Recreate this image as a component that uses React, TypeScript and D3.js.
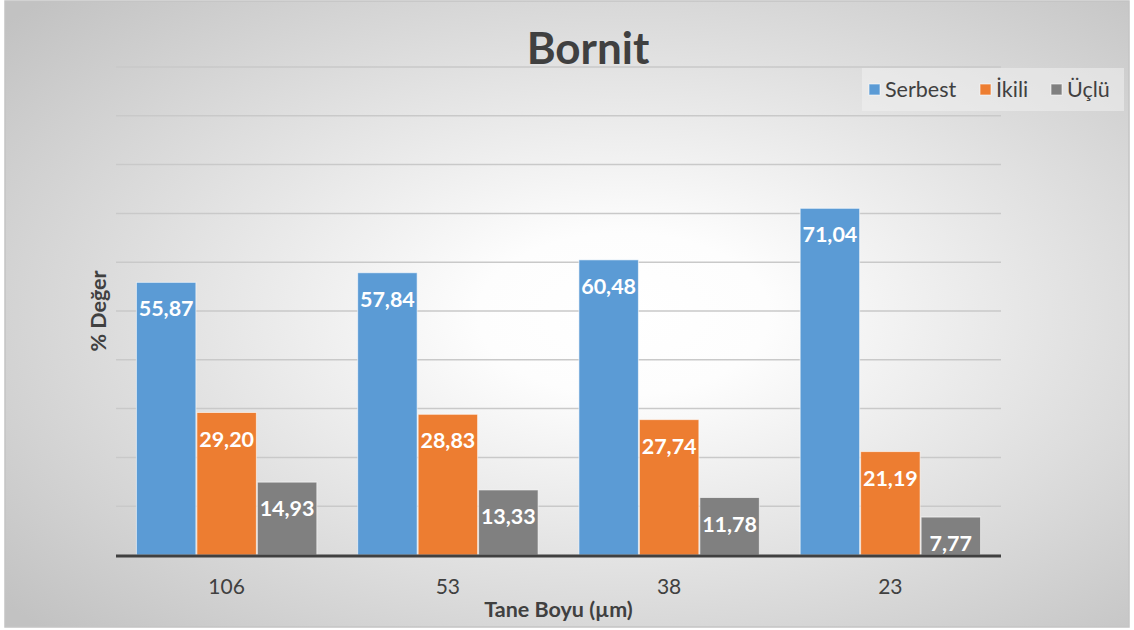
import { useEffect, useRef } from "react";
import * as d3 from "d3";

// Chart data
const categories = ["106", "53", "38", "23"];
const seriesNames = ["Serbest", "İkili", "Üçlü"];
const serbest = [55.87, 57.84, 60.48, 71.04];
const ikili = [29.2, 28.83, 27.74, 21.19];
const uclu = [14.93, 13.33, 11.78, 7.77];
const yTicks = [0, 10, 20, 30, 40, 50, 60, 70, 80, 90, 100];

const colors = ["#5b9bd5", "#ed7d31", "#808080"];
const FONT = "Lato, 'Open Sans', sans-serif";

export default function App(): JSX.Element {
    const width = 1134;
    const height = 630;
    const svgRef = useRef<SVGSVGElement>(null);

    useEffect(() => {
        const svg = d3.select(svgRef.current);
        svg.selectAll("*").remove();

        const margin = { left: 116, right: 133, top: 67, bottom: 75 };
        const plotRight = width - margin.right;
        const plotBottom = height - margin.bottom;

        // background gradient
        const defs = svg.append("defs");
        const grad = defs.append("radialGradient")
            .attr("id", "bg")
            .attr("cx", "55%").attr("cy", "50%").attr("r", "72%");
        grad.append("stop").attr("offset", "0%").attr("stop-color", "#ffffff");
        grad.append("stop").attr("offset", "18%").attr("stop-color", "#fdfdfd");
        grad.append("stop").attr("offset", "100%").attr("stop-color", "#c2c2c2");

        svg.append("rect")
            .attr("x", 5).attr("y", 1)
            .attr("width", width - 10).attr("height", height - 4)
            .attr("fill", "url(#bg)")
            .attr("stroke", "#c4c4c4")
            .attr("stroke-width", 1.5);

        const x0 = d3.scaleBand<string>()
            .domain(categories)
            .range([margin.left, plotRight])
            .paddingInner(0.18)
            .paddingOuter(0.09);
        const x1 = d3.scaleBand<string>()
            .domain(seriesNames)
            .range([0, x0.bandwidth()]);
        const y = d3.scaleLinear().domain([0, 100]).range([plotBottom, margin.top]);

        // gridlines
        svg.append("g")
            .selectAll("line")
            .data(yTicks.slice(1))
            .enter().append("line")
            .attr("x1", margin.left).attr("x2", plotRight)
            .attr("y1", d => y(d)).attr("y2", d => y(d))
            .attr("stroke", "#c9c9c9")
            .attr("stroke-width", 1.5);

        const series = [serbest, ikili, uclu];
        const rows = categories.map((c, i) => ({
            cat: c,
            vals: seriesNames.map((s, j) => ({ name: s, value: series[j][i], color: colors[j] })),
        }));

        const groups = svg.append("g")
            .selectAll("g")
            .data(rows)
            .enter().append("g")
            .attr("transform", d => `translate(${x0(d.cat)},0)`);

        groups.selectAll("rect")
            .data(d => d.vals)
            .enter().append("rect")
            .attr("x", d => x1(d.name)! + 0.5)
            .attr("width", x1.bandwidth() - 1)
            .attr("y", d => y(d.value))
            .attr("height", d => plotBottom - y(d.value))
            .attr("fill", d => d.color)
            .attr("stroke", "rgba(255,255,255,0.6)")
            .attr("stroke-width", 1);

        groups.selectAll("text")
            .data(d => d.vals)
            .enter().append("text")
            .attr("x", d => x1(d.name)! + x1.bandwidth() / 2)
            .attr("y", d => y(d.value) + 34)
            .attr("text-anchor", "middle")
            .attr("fill", "#ffffff")
            .attr("font-family", FONT)
            .attr("font-weight", "bold")
            .attr("font-size", 21.5)
            .text(d => d.value.toFixed(2).replace(".", ","));

        // baseline
        svg.append("line")
            .attr("x1", margin.left).attr("x2", plotRight)
            .attr("y1", plotBottom + 1).attr("y2", plotBottom + 1)
            .attr("stroke", "#404040")
            .attr("stroke-width", 3);

        // category labels
        svg.append("g")
            .selectAll("text")
            .data(categories)
            .enter().append("text")
            .attr("x", d => x0(d)! + x0.bandwidth() / 2)
            .attr("y", 594)
            .attr("text-anchor", "middle")
            .attr("fill", "#404040")
            .attr("font-family", FONT)
            .attr("font-size", 21)
            .text(d => d);

        // axis titles
        svg.append("text")
            .attr("x", (margin.left + plotRight) / 2)
            .attr("y", 617)
            .attr("text-anchor", "middle")
            .attr("fill", "#404040")
            .attr("font-family", FONT)
            .attr("font-weight", "bold")
            .attr("font-size", 21.5)
            .text("Tane Boyu (µm)");

        svg.append("text")
            .attr("transform", `translate(106,311) rotate(-90)`)
            .attr("text-anchor", "middle")
            .attr("fill", "#404040")
            .attr("font-family", FONT)
            .attr("font-weight", "bold")
            .attr("font-size", 21.5)
            .text("% Değer");

        // title
        svg.append("text")
            .attr("x", 588)
            .attr("y", 64)
            .attr("text-anchor", "middle")
            .attr("fill", "#404040")
            .attr("font-family", FONT)
            .attr("font-weight", "bold")
            .attr("font-size", 44)
            .text("Bornit");

        // legend
        const legend = svg.append("g");
        legend.append("rect")
            .attr("x", 862).attr("y", 68)
            .attr("width", 262).attr("height", 43)
            .attr("fill", "rgba(240,240,240,0.55)");
        const legendX = [869, 980, 1051];
        seriesNames.forEach((s, i) => {
            legend.append("rect")
                .attr("x", legendX[i]).attr("y", 84)
                .attr("width", 11).attr("height", 11)
                .attr("fill", colors[i])
                .attr("stroke", "rgba(255,255,255,0.6)");
            legend.append("text")
                .attr("x", legendX[i] + 16).attr("y", 97)
                .attr("fill", "#404040")
                .attr("font-family", FONT)
                .attr("font-size", 21.5)
                .text(s);
        });
    }, []);

    return (
        <svg
            ref={svgRef}
            width={width}
            height={height}
            style={{ position: "absolute", left: 0, top: 0 }}
        />
    );
}
